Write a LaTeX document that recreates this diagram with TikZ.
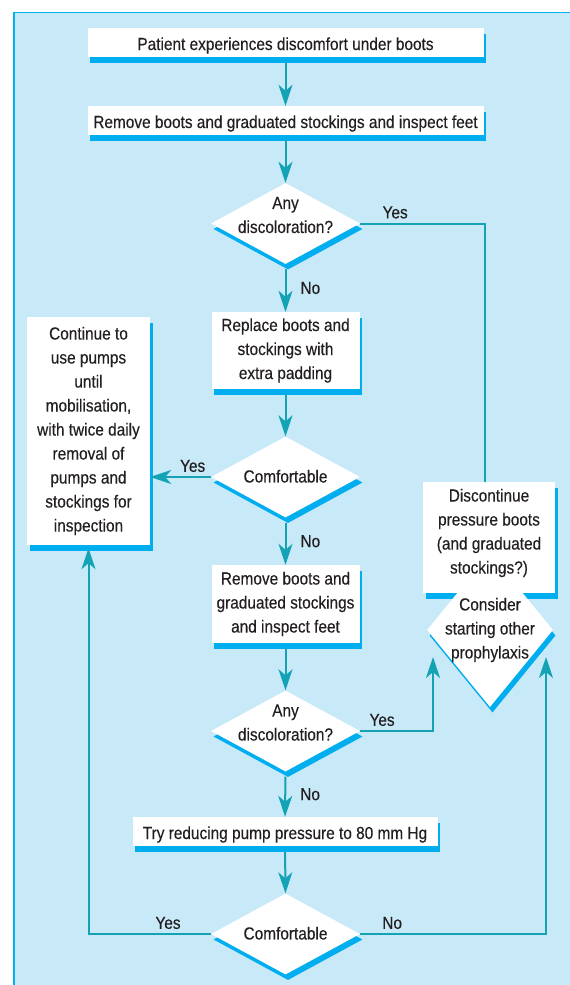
\documentclass[tikz,border=0pt]{standalone}
\usepackage{fontspec}
\setmainfont{Liberation Sans}[FakeStretch=0.88, RawFeature={embolden=0.3}]
\usetikzlibrary{shapes.geometric,shadows,arrows.meta,positioning}
\definecolor{panelblue}{HTML}{C8E9F8}
\definecolor{rimblue}{HTML}{00B4EF}
\definecolor{shadecyan}{HTML}{00AEEF}
\definecolor{flowteal}{HTML}{13A3B4}
\definecolor{ink}{HTML}{231F20}
\tikzset{
  chart/.style={font=\fontsize{17.5pt}{24pt}\selectfont, text=ink},
  card/.style={fill=white, align=center, inner sep=0pt,
    drop shadow={shadow xshift=2.5pt, shadow yshift=-5.5pt, fill=shadecyan, opacity=1}},
  bar/.style={card, minimum width=#1, minimum height=29pt, text height=15pt, text depth=0pt},
  query/.style={diamond, card, minimum width=149pt, minimum height=81pt},
  plain/.style={draw=flowteal, line width=2pt},
  flow/.style={plain, -{Stealth[length=21pt,width=14pt,inset=6pt]}},
  tag/.style={inner sep=0pt, text=ink},
}
% text of a diamond, kept from growing the shape
\newcommand{\qtext}[2][0pt]{\smash{\makebox[0pt]{\raisebox{#1}{\begin{tabular}{@{}c@{}}#2\end{tabular}}}}}
\begin{document}
\begin{tikzpicture}[x=1pt, y=-1pt, chart]
\useasboundingbox (0,0) rectangle (570,985);
\fill[panelblue, draw=rimblue, line width=1.3pt] (14,12.5) rectangle (600,1000);

% main column
\node[bar=396pt] (start) at (285.5,42.5) {Patient experiences discomfort under boots};
\node[bar=396pt] (strip) at (285.5,120.5) {Remove boots and graduated stockings and inspect feet};
\node[query] (colour1) at (285.5,223.5) {\qtext[3pt]{Any\\discoloration?}};
\node[card, minimum width=148pt, minimum height=77pt] (pad) at (285.5,350.5) {Replace boots and\\stockings with\\extra padding};
\node[query] (comfy1) at (285.5,477) {\qtext[-5pt]{Comfortable}};
\node[card, minimum width=148pt, minimum height=78pt] (strip2) at (285.5,604) {Remove boots and\\graduated stockings\\and inspect feet};
\node[query] (colour2) at (285.5,731) {\qtext[3pt]{Any\\discoloration?}};
\node[bar=305pt] (lower) at (285,831.5) {Try reducing pump pressure to 80 mm Hg};
\node[query] (comfy2) at (285.5,934) {\qtext[-5pt]{Comfortable}};

% side outcomes
\node[card, minimum width=123pt, minimum height=228pt] (keep) at (88.5,431) {Continue to\\use pumps\\until\\mobilisation,\\with twice daily\\removal of\\pumps and\\stockings for\\inspection};
\node[card, minimum width=132pt, minimum height=111pt] (stop) at (489,537.5) {};
\node[diamond, card, minimum width=126pt, minimum height=154pt] (other) at (490,630) {\qtext[-4pt]{Consider\\starting other\\prophylaxis}};
\node[tag, align=center] (stoptext) at (489,533) {Discontinue\\pressure boots\\(and graduated\\stockings?)};
\coordinate (hitL) at (433,657);
\coordinate (hitR) at (546,657);

% connectors
\draw[flow, shorten <=5pt] (start.south) -- (strip.north);
\draw[flow, shorten <=5pt] (strip.south) -- (colour1.north);
\draw[flow, shorten <=5pt] (colour1.south) -- node[tag, right=14pt] {No} (pad.north);
\draw[flow, shorten <=5pt] (pad.south) -- (comfy1.north);
\draw[flow, shorten <=5pt] (comfy1.south) -- node[tag, right=14pt] {No} (strip2.north);
\draw[flow, shorten <=5pt] (strip2.south) -- (colour2.north);
\draw[flow, shorten <=5pt] (colour2.south) -- node[tag, right=14pt] {No} (lower.north);
\draw[flow, shorten <=5pt] (lower.south) -- (comfy2.north);
\draw[plain] (colour1.east) -| node[tag, pos=0.14, above=4pt] {Yes} ([xshift=-4pt]stop.north);
\draw[flow] (comfy1.west) -- node[tag, pos=0.3, above=4pt] {Yes} (comfy1.west -| keep.east);
\draw[flow] (colour2.east) -| node[tag, pos=0.15, above=4pt] {Yes} (hitL);
\draw[flow] (comfy2.west) -| node[tag, pos=0.175, above=4pt] {Yes} ([yshift=-3pt]keep.south);
\draw[flow] (comfy2.east) -| node[tag, pos=0.086, above=4pt] {No} (hitR);
\end{tikzpicture}
\end{document}
